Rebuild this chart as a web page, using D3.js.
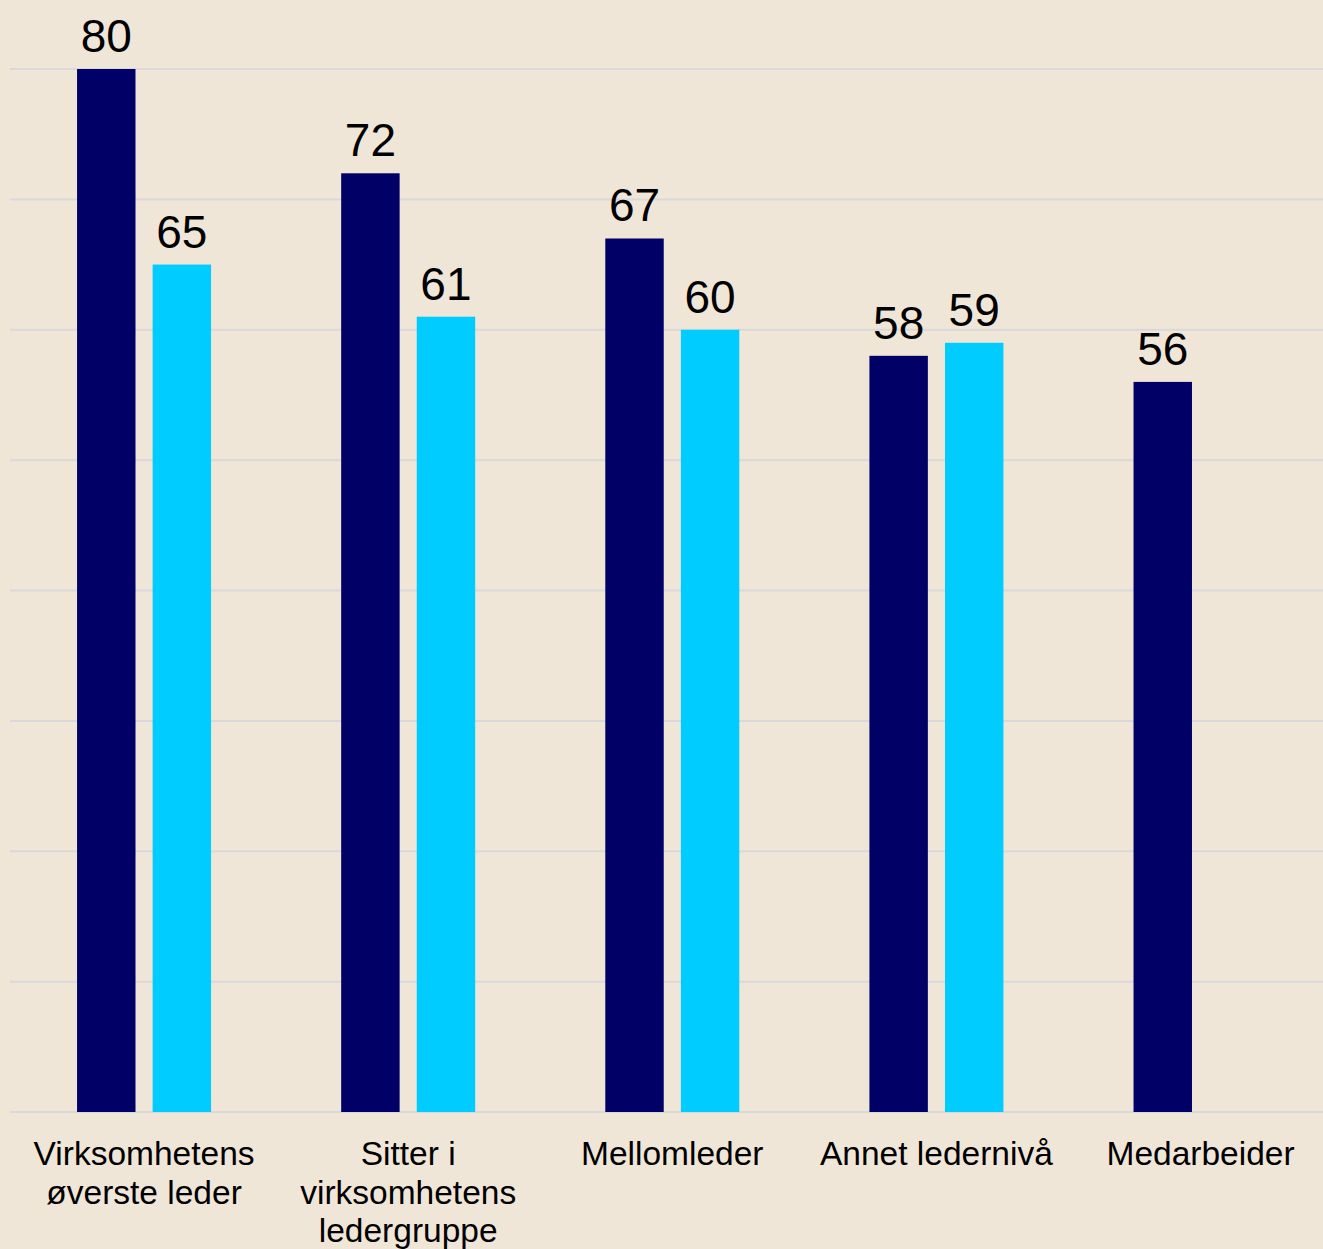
<!DOCTYPE html>
<html>
<head>
<meta charset="utf-8">
<script src="https://cdn.jsdelivr.net/npm/d3@7"></script>
<style>
  html, body { margin: 0; padding: 0; background: #F0E6D8; }
  svg { display: block; font-family: "Liberation Sans", Arial, sans-serif; }
</style>
</head>
<body>
<svg id="chart"></svg>
<script>
// Data
const categories = ['Virksomhetens øverste leder', 'Sitter i virksomhetens ledergruppe', 'Mellomleder', 'Annet ledernivå', 'Medarbeider'];
const tickLabels = [
    ['Virksomhetens', 'øverste leder'],
    ['Sitter i', 'virksomhetens', 'ledergruppe'],
    ['Mellomleder'],
    ['Annet ledernivå'],
    ['Medarbeider']
];
const seriesNames = ['Serie 1', 'Serie 2'];
const series1 = [80, 72, 67, 58, 56];
const series2 = [65, 61, 60, 59, null];
const yTicks = [0, 10, 20, 30, 40, 50, 60, 70, 80];

const width = 1323;
const height = 1249;

const svg = d3.select('#chart')
    .attr('width', width)
    .attr('height', height);

svg.append('rect')
    .attr('width', width)
    .attr('height', height)
    .attr('fill', '#F0E6D8');

const y = d3.scaleLinear()
    .domain([0, 80])
    .range([1112, 69]);

const x0 = d3.scaleBand()
    .domain(categories)
    .range([12, 1332.6])
    .padding(0);

const inner = 134;
const x1 = d3.scaleBand()
    .domain(seriesNames)
    .range([(x0.bandwidth() - inner) / 2, (x0.bandwidth() + inner) / 2])
    .paddingInner(17 / 75);

const colors = d3.scaleOrdinal()
    .domain(seriesNames)
    .range(['#000066', '#00CCFF']);

// gridlines
svg.append('g')
    .selectAll('line')
    .data(yTicks)
    .enter()
    .append('line')
    .attr('x1', 10)
    .attr('x2', width)
    .attr('y1', d => y(d))
    .attr('y2', d => y(d))
    .attr('stroke', '#D9D8DA')
    .attr('stroke-width', 2);

const rows = categories.map((c, i) => ({
    category: c,
    values: [
        { name: seriesNames[0], value: series1[i] },
        { name: seriesNames[1], value: series2[i] }
    ].filter(d => d.value != null)
}));

const groups = svg.selectAll('.group')
    .data(rows)
    .enter()
    .append('g')
    .attr('class', 'group')
    .attr('transform', d => `translate(${x0(d.category)},0)`);

groups.selectAll('rect')
    .data(d => d.values)
    .enter()
    .append('rect')
    .attr('x', d => x1(d.name))
    .attr('width', x1.bandwidth())
    .attr('y', d => y(d.value))
    .attr('height', d => y(0) - y(d.value))
    .attr('fill', d => colors(d.name));

groups.selectAll('text.value')
    .data(d => d.values)
    .enter()
    .append('text')
    .attr('class', 'value')
    .attr('x', d => x1(d.name) + x1.bandwidth() / 2)
    .attr('y', d => y(d.value) - 17)
    .attr('text-anchor', 'middle')
    .attr('font-size', 46)
    .attr('fill', '#000')
    .text(d => d.value);

// category labels
const labels = svg.append('g')
    .selectAll('text')
    .data(categories)
    .enter()
    .append('text')
    .attr('x', d => x0(d) + x0.bandwidth() / 2)
    .attr('y', 1165)
    .attr('text-anchor', 'middle')
    .attr('font-size', 33.5)
    .attr('fill', '#000');

labels.selectAll('tspan')
    .data((d, i) => tickLabels[i])
    .enter()
    .append('tspan')
    .attr('x', function() { return d3.select(this.parentNode).attr('x'); })
    .attr('dy', (d, i) => i === 0 ? 0 : 38.5)
    .text(d => d);
</script>
</body>
</html>
